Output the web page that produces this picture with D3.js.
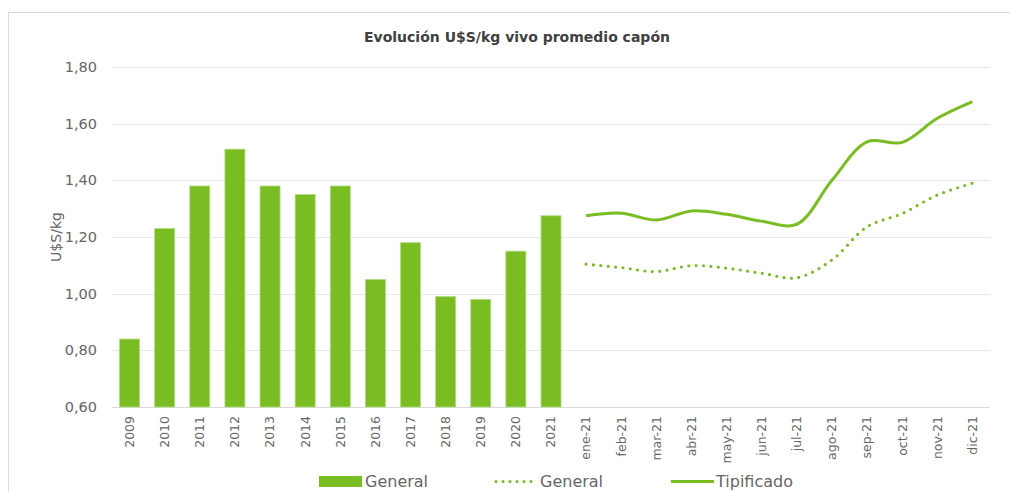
<!DOCTYPE html>
<html>
<head>
<meta charset="utf-8">
<script src="https://cdn.jsdelivr.net/npm/d3@7"></script>
<style>
  body { margin: 0; background: #fff; }
  svg { display: block; font-family: "DejaVu Sans", sans-serif; }
</style>
</head>
<body>
<div id="chart"></div>
<script>
var years = ["2009","2010","2011","2012","2013","2014","2015","2016","2017","2018","2019","2020","2021"];
var months = ["ene-21","feb-21","mar-21","abr-21","may-21","jun-21","jul-21","ago-21","sep-21","oct-21","nov-21","dic-21"];
var generalAnual = [0.84, 1.23, 1.38, 1.51, 1.38, 1.35, 1.38, 1.05, 1.18, 0.99, 0.98, 1.15, 1.275];
var generalMensual = [1.104, 1.092, 1.078, 1.099, 1.090, 1.072, 1.056, 1.119, 1.236, 1.283, 1.348, 1.390];
var tipificado = [1.275, 1.284, 1.260, 1.292, 1.280, 1.256, 1.245, 1.400, 1.536, 1.534, 1.619, 1.678];
var yTicks = [0.6, 0.8, 1.0, 1.2, 1.4, 1.6, 1.8];

var green = "#7abd23";
var textGray = "#666666";

var width = 1010, height = 492;
var svg = d3.select("#chart").append("svg")
    .attr("width", width)
    .attr("height", height);

// chart frame
svg.append("rect")
  .attr("x", 8.5).attr("y", 12.5)
  .attr("width", 1020).attr("height", 500)
  .attr("fill", "none")
  .attr("stroke", "#d9d9d9");

svg.append("text")
  .attr("x", 517).attr("y", 42)
  .attr("text-anchor", "middle")
  .attr("font-size", 14)
  .attr("font-weight", "bold")
  .attr("fill", "#404040")
  .text("Evolución U$S/kg vivo promedio capón");

var categories = years.concat(months);

var x = d3.scaleBand()
    .domain(categories)
    .range([112, 990])
    .paddingInner(0.43)
    .paddingOuter(0.215);

var y = d3.scaleLinear()
    .domain([0.6, 1.8])
    .range([407, 67]);

var fmt = function(d) { return d3.format(".2f")(d).replace(".", ","); };

// gridlines
svg.append("g")
  .selectAll("line")
  .data(yTicks)
  .enter().append("line")
  .attr("x1", 112).attr("x2", 990)
  .attr("y1", function(d) { return Math.round(y(d)) + 0.5; })
  .attr("y2", function(d) { return Math.round(y(d)) + 0.5; })
  .attr("stroke", function(d) { return d === 0.6 ? "#d9d9d9" : "#e8e8e8"; })
  .attr("stroke-width", 1);

// y tick labels
svg.append("g")
  .selectAll("text")
  .data(yTicks)
  .enter().append("text")
  .attr("x", 97)
  .attr("y", function(d) { return y(d); })
  .attr("dy", "0.35em")
  .attr("text-anchor", "end")
  .attr("font-size", 14.5)
  .attr("fill", textGray)
  .text(fmt);

svg.append("text")
  .attr("transform", "translate(61,237) rotate(-90)")
  .attr("text-anchor", "middle")
  .attr("font-size", 14)
  .attr("fill", textGray)
  .text("U$S/kg");

// bars
svg.append("g")
  .selectAll("rect")
  .data(years)
  .enter().append("rect")
  .attr("x", function(d) { return x(d); })
  .attr("width", x.bandwidth())
  .attr("y", function(d, i) { return y(generalAnual[i]); })
  .attr("height", function(d, i) { return y(0.6) - y(generalAnual[i]); })
  .attr("fill", green)
  .attr("stroke", "#b5db84")
  .attr("stroke-width", 0.8);

var cx = function(d) { return x(d) + x.bandwidth() / 2; };

var line = d3.line()
    .x(function(d) { return cx(d[0]); })
    .y(function(d) { return y(d[1]); })
    .curve(d3.curveCatmullRom.alpha(0.5));

svg.append("path")
  .datum(d3.zip(months, generalMensual))
  .attr("d", line)
  .attr("fill", "none")
  .attr("stroke", green)
  .attr("stroke-width", 3.2)
  .attr("stroke-linecap", "round")
  .attr("stroke-dasharray", "0,7.4");

svg.append("path")
  .datum(d3.zip(months, tipificado))
  .attr("d", line)
  .attr("fill", "none")
  .attr("stroke", green)
  .attr("stroke-width", 3);

// x labels
svg.append("g")
  .selectAll("text")
  .data(categories)
  .enter().append("text")
  .attr("transform", function(d) { return "translate(" + cx(d) + ",416) rotate(-90)"; })
  .attr("dy", "0.35em")
  .attr("text-anchor", "end")
  .attr("font-size", 12.5)
  .attr("fill", textGray)
  .text(function(d) { return d; });

// legend
var legend = svg.append("g").attr("font-size", 16).attr("fill", textGray);

legend.append("rect")
  .attr("x", 319).attr("y", 476).attr("width", 43).attr("height", 11)
  .attr("fill", green);
legend.append("text").attr("x", 365).attr("y", 487).text("General");

legend.append("line")
  .attr("x1", 496).attr("x2", 537).attr("y1", 481.5).attr("y2", 481.5)
  .attr("stroke", green).attr("stroke-width", 3.2)
  .attr("stroke-linecap", "round").attr("stroke-dasharray", "0,7");
legend.append("text").attr("x", 540).attr("y", 487).text("General");

legend.append("line")
  .attr("x1", 671).attr("x2", 714).attr("y1", 481.5).attr("y2", 481.5)
  .attr("stroke", green).attr("stroke-width", 3);
legend.append("text").attr("x", 716).attr("y", 487).text("Tipificado");
</script>
</body>
</html>
